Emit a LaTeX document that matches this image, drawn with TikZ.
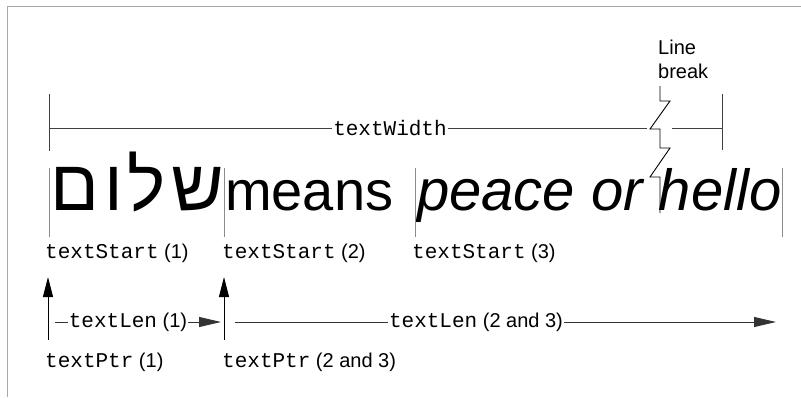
\documentclass[tikz,border=0pt]{standalone}
\usepackage{fontspec}
\setmainfont{Liberation Sans}
\setmonofont{Liberation Mono}
\newfontfamily\hebfont[Script=Hebrew,LetterSpace=7]{Liberation Sans}
\TeXXeTstate=1
\usetikzlibrary{arrows.meta, positioning, calc}
\definecolor{txFrame}{HTML}{A8A8A8}
\definecolor{txTick}{HTML}{8C8C8C}
\definecolor{txDim}{HTML}{404040}
\newcommand{\cw}[1]{{\fontsize{21}{24}\selectfont\ttfamily #1}}
\tikzset{
  frameline/.style={txFrame, line width=1pt},
  dimline/.style={txDim, line width=0.9pt},
  starttick/.style={txTick, line width=0.9pt},
  breakline/.style={black, line width=0.9pt, line join=miter},
  ptrarrow/.style={-{Triangle[length=20pt, width=10pt]}, black, line width=1pt},
  lenarrow/.style={-{Triangle[length=22pt, width=10pt]}, black!80, line width=0.9pt},
  bigtext/.style={font=\fontsize{56}{62}\selectfont, inner sep=0pt, anchor=base west},
  codelbl/.style={font=\fontsize{20}{24}\selectfont, inner sep=0pt, anchor=base west},
  onlbl/.style={font=\fontsize{20}{24}\selectfont, fill=white, inner sep=1pt}
}
\begin{document}
\begin{tikzpicture}[x=1pt, y=-1pt]
  \useasboundingbox (0,0) rectangle (801,397);
  % frame
  \draw[frameline] (7,397) -- (7,6) -- (801,6);

  % the line of text
  \node[bigtext, anchor=base east, font=\fontsize{72}{80}\selectfont] (heb) at (224,210)
    {\hebfont\beginR שלום\endR};
  \node[bigtext] (means) at (225,210) {means};
  \node[bigtext, font=\fontsize{58}{64}\selectfont\itshape] (peace) at (417,210) {peace or hello};

  % textWidth
  \coordinate (wl1) at (49,94);   \coordinate (wl2) at (49,151);
  \coordinate (wr1) at (722,94);  \coordinate (wr2) at (722,150);
  \coordinate (wa) at (49,128);   \coordinate (wb) at (647,128);
  \coordinate (wc) at (672,128);  \coordinate (wd) at (722,128);
  \node[onlbl] (twidth) at (390,128) {\cw{textWidth}};
  \draw[dimline] (wl1) -- (wl2);
  \draw[dimline] (wr1) -- (wr2);
  \draw[dimline] (wa) -- (twidth) -- (wb);
  \draw[dimline] (wc) -- (wd);

  % line break
  \node[font=\fontsize{20}{24}\selectfont, align=left, inner sep=0pt, anchor=north west]
    (lbreak) at (658,40) {Line\\break};
  \draw[breakline] (660,86) -- (660,101) -- (670,101) -- (650,129) -- (660,129)
    -- (660,148) -- (670,148) -- (650,177) -- (660,177) -- (660,213);

  % textStart ticks
  \foreach \n/\x in {s1/49, s2/224, s3/415, s4/782}
    \draw[starttick] (\x,168) coordinate (\n a) -- (\x,237) coordinate (\n b);
  \node[codelbl] (ts1) at (45,258) {\cw{textStart} (1)};
  \node[codelbl] (ts2) at (222,258) {\cw{textStart} (2)};
  \node[codelbl] (ts3) at (412,258) {\cw{textStart} (3)};

  % textPtr
  \coordinate (p1b) at (48,340);  \coordinate (p1t) at (48,277);
  \coordinate (p2b) at (224,340); \coordinate (p2t) at (224,277);
  \draw[ptrarrow] (p1b) -- (p1t);
  \draw[ptrarrow] (p2b) -- (p2t);
  \node[codelbl] (tp1) at (45,367) {\cw{textPtr} (1)};
  \node[codelbl] (tp2) at (222,367) {\cw{textPtr} (2 and 3)};

  % textLen
  \coordinate (l1a) at (55,322);  \coordinate (l1b) at (221,322);
  \coordinate (l2a) at (235,322); \coordinate (l2b) at (776,322);
  \node[onlbl] (tl1) at (128,322) {\cw{textLen} (1)};
  \node[onlbl] (tl2) at (476,322) {\cw{textLen} (2 and 3)};
  \draw[lenarrow] (l1a) -- (tl1) -- (l1b);
  \draw[lenarrow] (l2a) -- (tl2) -- (l2b);
\end{tikzpicture}
\end{document}
